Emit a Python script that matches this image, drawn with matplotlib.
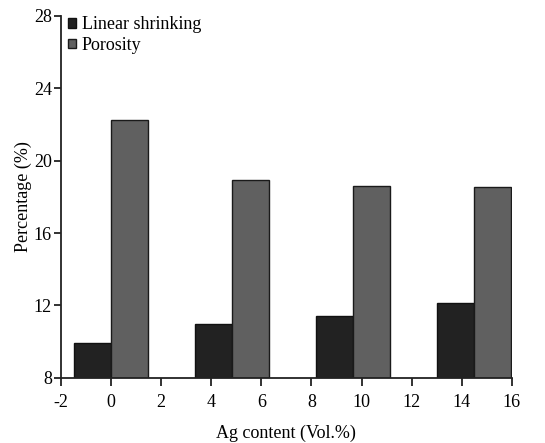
import matplotlib.pyplot as plt
import numpy as np

plt.rcParams['font.family'] = ['Liberation Serif', 'DejaVu Serif']

# group centres along the Ag axis, as drawn in the original
group_pos = [0.0, 4.83, 9.67, 14.5]
linear_shrinking = [9.92, 10.95, 11.43, 12.16]
porosity = [22.23, 18.91, 18.6, 18.56]
y_ticks = [8, 12, 16, 20, 24, 28]
x_ticks = [-2, 0, 2, 4, 6, 8, 10, 12, 14, 16]


def main():
    fig = plt.figure(figsize=(5.45, 4.43), dpi=100)
    ax = fig.add_axes([0.112, 0.147, 0.827, 0.817])

    w = 1.47
    x = np.array(group_pos)
    ax.bar(x - w / 2, np.array(linear_shrinking) - 8, w, bottom=8,
           color='#222222', edgecolor='#111111', linewidth=1.0,
           label='Linear shrinking')
    ax.bar(x + w / 2, np.array(porosity) - 8, w, bottom=8,
           color='#606060', edgecolor='#1a1a1a', linewidth=1.0,
           label='Porosity')

    ax.set_xlim(-2, 16)
    ax.set_ylim(8, 28)
    ax.set_xticks(x_ticks)
    ax.set_xticklabels([str(t) for t in x_ticks])
    ax.set_yticks(y_ticks)
    for s in ['top', 'right']:
        ax.spines[s].set_visible(False)
    for s in ['left', 'bottom']:
        ax.spines[s].set_linewidth(1.3)
        ax.spines[s].set_color('#222222')
    ax.tick_params(direction='out', length=6, width=1.3, labelsize=13,
                   color='#222222')
    ax.tick_params(axis='x', pad=5.5)
    ax.tick_params(axis='y', length=5, pad=1.5)

    ax.set_xlabel('Ag content (Vol.%)', fontsize=13, labelpad=10)
    ax.set_ylabel('Percentage (%)', fontsize=13, labelpad=1)

    ax.legend(loc='upper left', frameon=False, fontsize=13,
              handlelength=0.45, handleheight=0.45, handletextpad=0.3,
              borderaxespad=0.0, borderpad=0.4, labelspacing=0.2,
              bbox_to_anchor=(0.0, 1.019))

    fig.savefig('out.png', dpi=100)


if __name__ == "__main__":
    main()
